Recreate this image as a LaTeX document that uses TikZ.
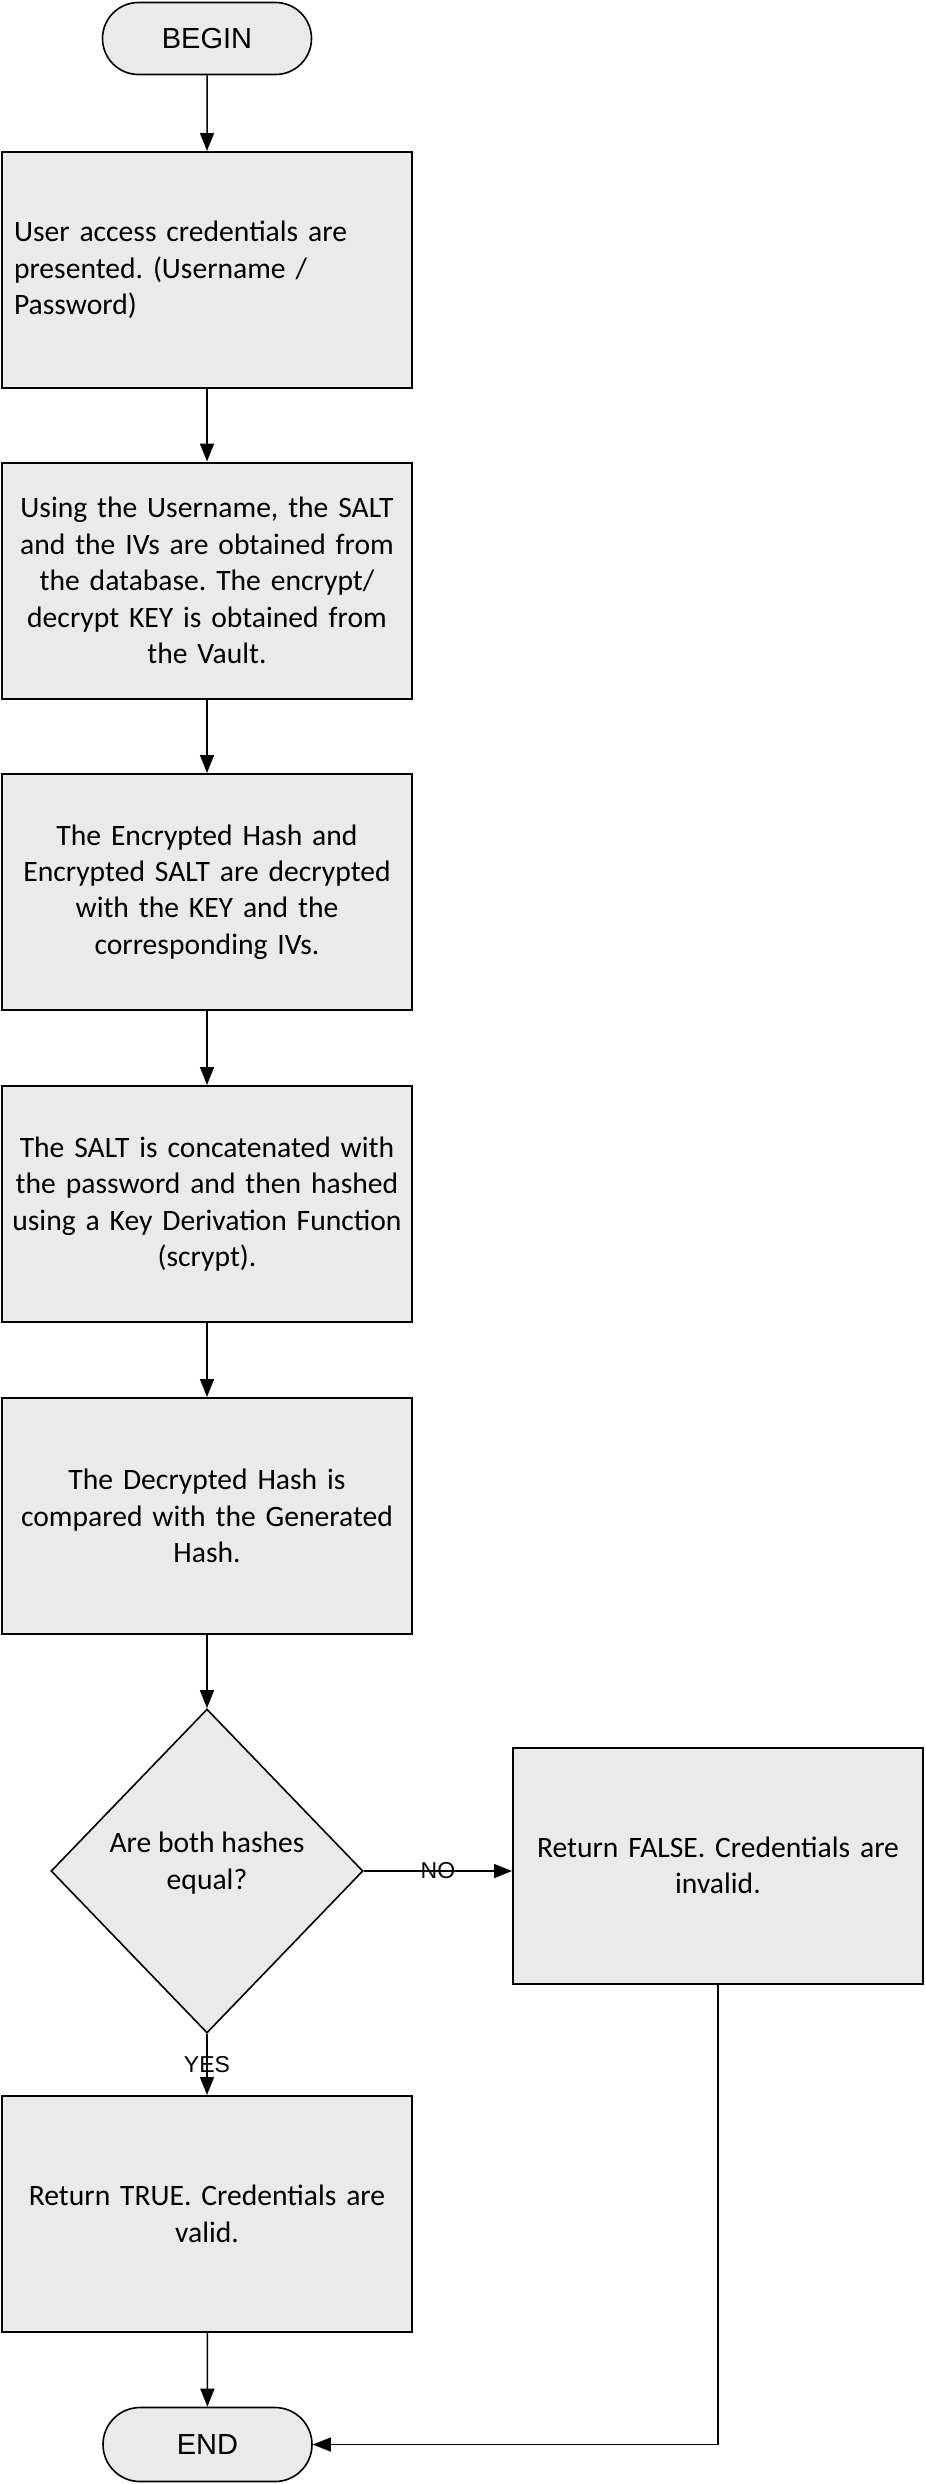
\documentclass[tikz,border=0pt]{standalone}
\usepackage{fontspec}
\usetikzlibrary{shapes.geometric,shapes.misc,arrows.meta}
\newfontfamily\carl{Carlito}
\newfontfamily\libsans{Liberation Sans}
\definecolor{boxgray}{HTML}{EAEAEA}
\frenchspacing
\begin{document}
\begin{tikzpicture}[x=0.5pt,y=-0.5pt,
  box/.style={draw, fill=boxgray, line width=1pt, minimum width=205pt, minimum height=118pt,
    text width=200pt, inner xsep=2.5pt, inner ysep=0pt, align=center,
    font=\carl\fontsize{14.8}{18.2}\selectfont},
  term/.style={draw, fill=boxgray, line width=0.8pt, rounded rectangle, minimum width=104.5pt,
    minimum height=36pt, inner sep=0pt, font=\libsans\fontsize{14.5}{17}\selectfont},
  dec/.style={draw, fill=boxgray, line width=0.8pt, diamond, minimum width=156pt, minimum height=162pt,
    inner sep=0pt},
  dectxt/.style={align=center, inner sep=0pt, font=\carl\fontsize{14.8}{18.2}\selectfont},
  conn/.style={line width=0.75pt, -{Triangle[length=9pt,width=7pt]}},
  lbl/.style={font=\libsans\fontsize{11.5}{13}\selectfont, inner sep=0pt}]
\useasboundingbox (0,0) rectangle (926,2484);
\node[term] (begin) at (207,38.5) {BEGIN};
\node[box, align=left, text width=193pt, inner xsep=6pt] (s1) at (207,270)
  {User access credentials are\\presented. (Username /\\Password)};
\node[box] (s2) at (207,580.5)
  {Using the Username, the SALT\\and the IVs are obtained from\\the database. The encrypt/\\decrypt KEY is obtained from\\the Vault.};
\node[box] (s3) at (207,892)
  {The Encrypted Hash and\\Encrypted SALT are decrypted\\with the KEY and the\\corresponding IVs.};
\node[box] (s4) at (207,1204)
  {The SALT is concatenated with\\the password and then hashed\\using a Key Derivation Function\\(scrypt).};
\node[box] (s5) at (207,1516)
  {The Decrypted Hash is\\compared with the Generated\\Hash.};
\node[dec] (dec) at (207,1871) {};
\node[dectxt] (dect) at (207,1863) {Are both hashes\\equal?};
\node[box] (false) at (718,1865.5) {Return FALSE. Credentials are\\invalid.};
\node[box] (true) at (207,2214) {Return TRUE. Credentials are\\valid.};
\node[term, minimum height=37pt] (end) at (207.5,2444.5) {END};
\draw[conn] (begin) -- (s1);
\draw[conn] (s1) -- (s2);
\draw[conn] (s2) -- (s3);
\draw[conn] (s3) -- (s4);
\draw[conn] (s4) -- (s5);
\draw[conn] (s5) -- (dec);
\draw[conn] (dec.east) -- node[lbl] {NO} (dec.east -| false.west);
\draw[conn] (dec.south) -- node[lbl] {YES} (true.north);
\draw[conn] (true) -- (end);
\draw[conn] (false.south) |- (end.east);
\end{tikzpicture}
\end{document}
